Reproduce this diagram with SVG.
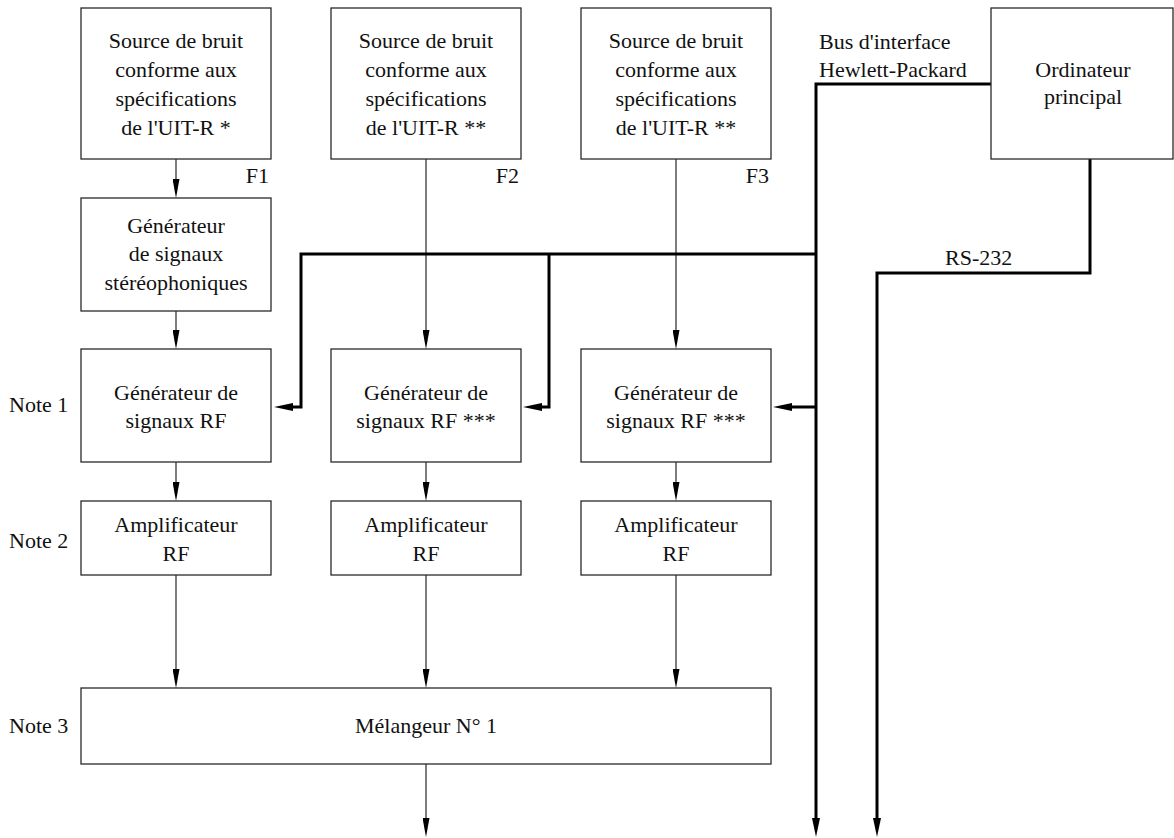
<svg xmlns="http://www.w3.org/2000/svg" width="1174" height="838" viewBox="0 0 1174 838">
<style>
.box{fill:#fff;stroke:#2a2a2a;stroke-width:1.3}
text{font-family:"Liberation Serif",Tinos,"Nimbus Roman","Times New Roman","DejaVu Serif",serif;font-size:22px;fill:#111}
.c{text-anchor:middle}
.e{text-anchor:end}
.thin{fill:none;stroke:#111;stroke-width:1.1}
.thick{fill:none;stroke:#000;stroke-width:3}
</style>
<defs>
<marker id="ah" viewBox="0 0 19 7" markerWidth="19" markerHeight="7" refX="9" refY="3.5" orient="auto" markerUnits="userSpaceOnUse"><path d="M0,0 L19,3.5 L0,7 z" fill="#000"/></marker>
<marker id="ahb" viewBox="0 0 19 8" markerWidth="19" markerHeight="8" refX="9" refY="4" orient="auto" markerUnits="userSpaceOnUse"><path d="M0,0 L19,4 L0,8 z" fill="#000"/></marker>
</defs>
<rect width="1174" height="838" fill="#fff"/>
<g id="connectors">
<path class="thin" d="M176,159 V188" marker-end="url(#ah)"/>
<path class="thin" d="M176,311 V339" marker-end="url(#ah)"/>
<path class="thin" d="M426,159 V339" marker-end="url(#ah)"/>
<path class="thin" d="M676,159 V339" marker-end="url(#ah)"/>
<path class="thin" d="M176,462 V491" marker-end="url(#ah)"/>
<path class="thin" d="M426,462 V491" marker-end="url(#ah)"/>
<path class="thin" d="M676,462 V491" marker-end="url(#ah)"/>
<path class="thin" d="M176,575 V678" marker-end="url(#ah)"/>
<path class="thin" d="M426,575 V678" marker-end="url(#ah)"/>
<path class="thin" d="M676,575 V678" marker-end="url(#ah)"/>
<path class="thin" d="M426,764 V827" marker-end="url(#ah)"/>
<path class="thick" d="M991,84 H816 V827" marker-end="url(#ahb)"/>
<path class="thick" d="M816,254 H301 V407 H284" marker-end="url(#ahb)"/>
<path class="thick" d="M549,254 V407 H533" marker-end="url(#ahb)"/>
<path class="thick" d="M816,407 H783" marker-end="url(#ahb)"/>
<path class="thick" d="M1090,159 V273 H877 V827" marker-end="url(#ahb)"/>
</g>
<g id="src1"><rect class="box" x="81" y="8" width="190" height="151"/>
<text class="c" x="176" y="48">Source de bruit</text><text class="c" x="176" y="77">conforme aux</text><text class="c" x="176" y="106">spécifications</text><text class="c" x="176" y="135">de l'UIT-R *</text></g>
<g id="src2"><rect class="box" x="331" y="8" width="190" height="151"/>
<text class="c" x="426" y="48">Source de bruit</text><text class="c" x="426" y="77">conforme aux</text><text class="c" x="426" y="106">spécifications</text><text class="c" x="426" y="135">de l'UIT-R **</text></g>
<g id="src3"><rect class="box" x="581" y="8" width="190" height="151"/>
<text class="c" x="676" y="48">Source de bruit</text><text class="c" x="676" y="77">conforme aux</text><text class="c" x="676" y="106">spécifications</text><text class="c" x="676" y="135">de l'UIT-R **</text></g>
<g id="labels-f"><text class="e" x="269" y="183">F1</text><text class="e" x="519" y="183">F2</text><text class="e" x="769" y="183">F3</text></g>
<g id="ordinateur"><rect class="box" x="991" y="8" width="182" height="151"/>
<text class="c" x="1083" y="77">Ordinateur</text><text class="c" x="1083" y="104">principal</text></g>
<g id="bus-label"><text x="819" y="49">Bus d'interface</text><text x="819" y="77">Hewlett-Packard</text></g>
<g id="rs232-label"><text x="945" y="265">RS-232</text></g>
<g id="stereo"><rect class="box" x="81" y="198" width="190" height="113"/>
<text class="c" x="176" y="233">Générateur</text><text class="c" x="176" y="261">de signaux</text><text class="c" x="176" y="290">stéréophoniques</text></g>
<g id="rf1"><rect class="box" x="81" y="349" width="190" height="113"/>
<text class="c" x="176" y="400">Générateur de</text><text class="c" x="176" y="428">signaux RF</text></g>
<g id="rf2"><rect class="box" x="331" y="349" width="190" height="113"/>
<text class="c" x="426" y="400">Générateur de</text><text class="c" x="426" y="428">signaux RF ***</text></g>
<g id="rf3"><rect class="box" x="581" y="349" width="190" height="113"/>
<text class="c" x="676" y="400">Générateur de</text><text class="c" x="676" y="428">signaux RF ***</text></g>
<g id="amp1"><rect class="box" x="81" y="501" width="190" height="74"/>
<text class="c" x="176" y="532">Amplificateur</text><text class="c" x="176" y="561">RF</text></g>
<g id="amp2"><rect class="box" x="331" y="501" width="190" height="74"/>
<text class="c" x="426" y="532">Amplificateur</text><text class="c" x="426" y="561">RF</text></g>
<g id="amp3"><rect class="box" x="581" y="501" width="190" height="74"/>
<text class="c" x="676" y="532">Amplificateur</text><text class="c" x="676" y="561">RF</text></g>
<g id="mixer"><rect class="box" x="81" y="688" width="690" height="76"/>
<text class="c" x="426" y="733">Mélangeur N° 1</text></g>
<g id="notes"><text x="9" y="412">Note 1</text><text x="9" y="548">Note 2</text><text x="9" y="733">Note 3</text></g>
</svg>
